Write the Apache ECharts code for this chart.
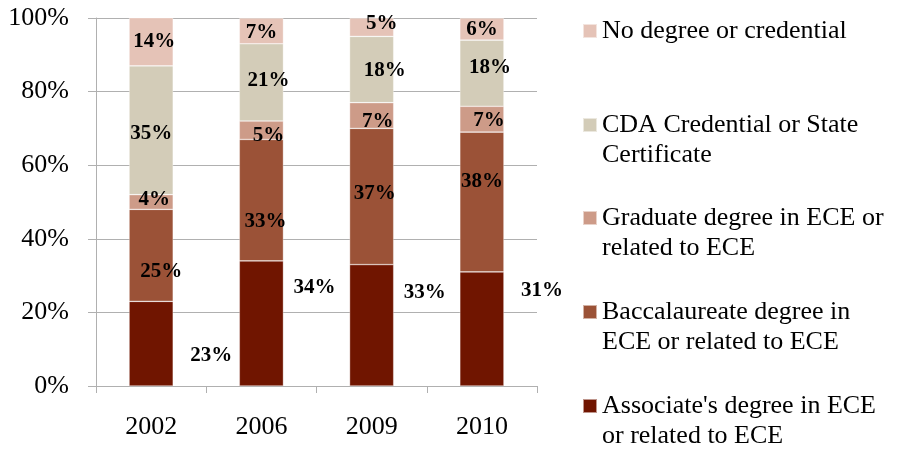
<!DOCTYPE html>
<html>
<head>
<meta charset="utf-8">
<script src="https://cdn.jsdelivr.net/npm/echarts@6/dist/echarts.min.js"></script>
<style>
html, body { margin: 0; padding: 0; background: #fff; }
#chart { width: 906px; height: 450px; }
</style>
</head>
<body>
<div id="chart"></div>
<script>
var years = ['2002', '2006', '2009', '2010'];

var associate = [23, 34, 33, 31];
var baccalaureate = [25, 33, 37, 38];
var graduate = [4, 5, 7, 7];
var cda = [35, 21, 18, 18];
var noDegree = [14, 7, 5, 6];

var yTicks = [0, 20, 40, 60, 80, 100];

var names = {
    associate: "Associate's degree in ECE\nor related to ECE",
    bacc: 'Baccalaureate degree in\nECE or related to ECE',
    grad: 'Graduate degree in ECE or\nrelated to ECE',
    cda: 'CDA Credential or State\nCertificate',
    none: 'No degree or credential'
};

// label nudges [dx, dy] per bar, mimic the original placement
var shiftAssoc = [[7, 12], [0, -36], [0, -33], [7, -38]];
var shiftBacc = [[10, 16], [4, 21], [3, -3], [0, -20]];
var shiftGrad = [[3, -2], [7, 5], [6, 6], [7, 1]];
var shiftCda = [[0, 3], [7, -2], [13, 1], [8, -6]];
var shiftNone = [[3, 0], [0, 2], [10, -4], [0, 1]];

var serif = '"Liberation Serif", "Times New Roman", serif';

function items(values, shifts) {
    return values.map(function (v, i) {
        return { value: v, label: { offset: shifts[i] } };
    });
}

function barSeries(name, values, shifts, color, position) {
    return {
        name: name,
        type: 'bar',
        stack: 'all',
        barWidth: '40%',
        clip: true,
        itemStyle: { color: color, borderColor: 'rgba(255,255,255,0.55)', borderWidth: 0.6 },
        label: {
            show: true,
            position: position || 'inside',
            distance: 10,
            formatter: '{c}%',
            color: '#000',
            fontFamily: serif,
            fontWeight: 'bold',
            fontSize: 21
        },
        data: items(values, shifts)
    };
}

// two-line entries get a blank leading line so the icon sits on the first line
function legendAt(name, top, twoLines) {
    return {
        show: true,
        orient: 'vertical',
        left: 582,
        top: top,
        padding: 0,
        selectedMode: false,
        icon: 'rect',
        itemWidth: 14,
        itemHeight: 14,
        textStyle: {
            color: '#000',
            fontFamily: serif,
            fontSize: 26,
            lineHeight: 30
        },
        formatter: function (n) { return twoLines ? '\n' + n : n; },
        data: [name]
    };
}

var option = {
    animation: false,
    backgroundColor: '#fff',
    grid: { left: 96, right: 369, top: 18, bottom: 64 },
    legend: [
        legendAt(names.none, 16, false),
        legendAt(names.cda, 80, true),
        legendAt(names.grad, 173, true),
        legendAt(names.bacc, 267, true),
        legendAt(names.associate, 361, true)
    ],
    xAxis: {
        type: 'category',
        data: years,
        axisLine: { lineStyle: { color: '#b0b0b0', width: 1 } },
        axisTick: { show: true, length: 7, lineStyle: { color: '#b0b0b0' } },
        axisLabel: { color: '#000', fontFamily: serif, fontSize: 26, margin: 28 }
    },
    yAxis: {
        type: 'value',
        min: yTicks[0],
        max: yTicks[yTicks.length - 1],
        interval: yTicks[1] - yTicks[0],
        axisLine: { show: true, lineStyle: { color: '#b0b0b0', width: 1 } },
        axisTick: { show: true, length: 8, lineStyle: { color: '#b0b0b0' } },
        splitLine: { lineStyle: { color: '#b0b0b0', width: 1 } },
        axisLabel: { color: '#000', fontFamily: serif, fontSize: 26, margin: 27, formatter: '{value}%' }
    },
    series: [
        barSeries(names.associate, associate, shiftAssoc, '#701500', 'right'),
        barSeries(names.bacc, baccalaureate, shiftBacc, '#9b5237'),
        barSeries(names.grad, graduate, shiftGrad, '#cd9b88'),
        barSeries(names.cda, cda, shiftCda, '#d3ccb8'),
        barSeries(names.none, noDegree, shiftNone, '#e5c3b7')
    ]
};

var chart = echarts.init(document.getElementById('chart'));
chart.setOption(option);
</script>
</body>
</html>
